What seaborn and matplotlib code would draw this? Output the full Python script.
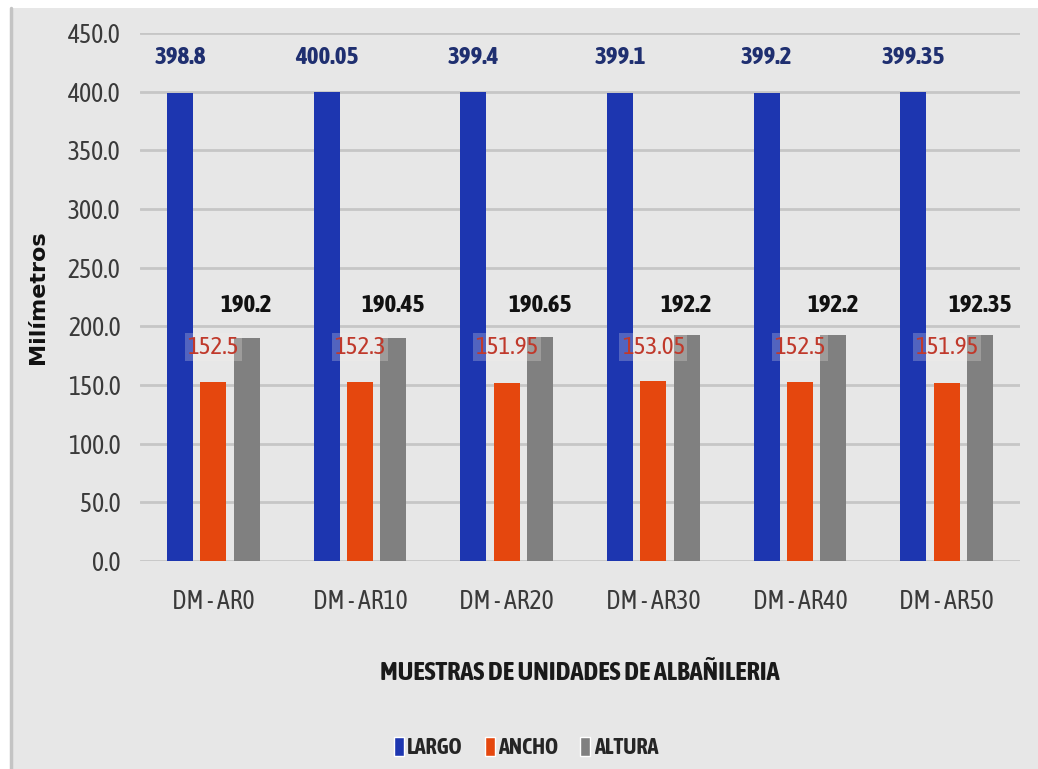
import matplotlib
matplotlib.use("Agg")
import matplotlib.pyplot as plt
from matplotlib import font_manager
from matplotlib.patches import Rectangle
from matplotlib.lines import Line2D
import seaborn as sns
import pandas as pd

# Sample names and measured dimensions (mm)
muestras = ["DM - AR0", "DM - AR10", "DM - AR20", "DM - AR30", "DM - AR40", "DM - AR50"]
largo = [398.8, 400.05, 399.4, 399.1, 399.2, 399.35]
ancho = [152.5, 152.3, 151.95, 153.05, 152.5, 151.95]
altura = [190.2, 190.45, 190.65, 192.2, 192.2, 192.35]
series = ["LARGO", "ANCHO", "ALTURA"]
y_ticks = [0, 50, 100, 150, 200, 250, 300, 350, 400, 450]

colores = {"LARGO": "#1D36B0", "ANCHO": "#E5470E", "ALTURA": "#808080"}
color_etiqueta = {"LARGO": "#1F2F70", "ANCHO": "#C0392B", "ALTURA": "#111111"}

df = pd.DataFrame({
    "muestra": muestras * 3,
    "serie": [s for s in series for _ in muestras],
    "mm": largo + ancho + altura,
})

# pick a narrow sans family, preferring one that has a bold face
fonts = font_manager.fontManager.ttflist
narrow = sorted({f.name for f in fonts if ("Narrow" in f.name or "Condensed" in f.name)})
with_bold = [n for n in narrow
             if any(f.name == n and f.weight in ("bold", 700, "700") for f in fonts)]
if "Liberation Sans Narrow" in narrow:
    base = "Liberation Sans Narrow"
elif with_bold:
    base = with_bold[0]
elif narrow:
    base = narrow[0]
else:
    base = "Liberation Sans"
NARROW = [base, "DejaVu Sans"]

sns.set_theme(style="white")
plt.rcParams["font.family"] = NARROW

BG = "#E7E7E7"
fig = plt.figure(figsize=(10.38, 7.69), dpi=100, facecolor="white")
# grey panel with a thin darker edge on the left
fig.patches.append(Rectangle((10 / 1038, 0), 1 - 10 / 1038, 1 - 8 / 769,
                             transform=fig.transFigure, facecolor=BG,
                             edgecolor="none", zorder=0))
fig.lines.append(Line2D([10.5 / 1038, 10.5 / 1038], [0, 1 - 8 / 769],
                        transform=fig.transFigure, color="#C4C4C4", lw=2.5, zorder=1))

ax = fig.add_axes([140 / 1038, 1 - 561 / 769, 880 / 1038, 528 / 769])
ax.set_zorder(2)
ax.set_facecolor(BG)

sns.barplot(data=df, x="muestra", y="mm", hue="serie", hue_order=series,
            order=muestras, palette=colores, width=0.68, gap=0.22,
            saturation=1, errorbar=None, legend=False, linewidth=0,
            ax=ax, zorder=3)

ax.set_xlim(-0.5, 5.5)
ax.set_ylim(0, 450)
ax.set_yticks(y_ticks)
ax.set_yticklabels([f"{t:.1f}" for t in y_ticks])
ax.yaxis.grid(True, color="#C6C6C6", lw=2)
ax.set_axisbelow(True)
for s in ax.spines.values():
    s.set_visible(False)
ax.tick_params(axis="both", length=0, labelsize=18.5, labelcolor="#3A3A3A")
ax.tick_params(axis="y", pad=14)
ax.tick_params(axis="x", pad=20)

ax.set_xlabel("MUESTRAS DE UNIDADES DE ALBAÑILERIA", fontsize=19, fontweight="bold",
              color="#1A1A1A")
ax.xaxis.set_label_coords(0.5, -0.1875)
ax.set_ylabel("Milímetros", fontsize=16, fontweight="bold", color="#111111",
              family=["DejaVu Sans"])
ax.yaxis.set_label_coords(-0.1045, 0.5)

# value labels, one per bar, drawn from the same values as the bars
valores = {"LARGO": largo, "ANCHO": ancho, "ALTURA": altura}
label_y = {"LARGO": 429, "ANCHO": 182, "ALTURA": 218}
for serie, cont in zip(series, ax.containers):
    for bar, v in zip(cont, valores[serie]):
        cx = bar.get_x() + bar.get_width() / 2
        kw = dict(ha="center", va="center", fontsize=18, zorder=5,
                  color=color_etiqueta[serie])
        if serie == "ANCHO":
            kw["bbox"] = dict(boxstyle="square,pad=0.1", facecolor="#F4F0EC",
                              edgecolor="none", alpha=0.25)
        else:
            kw["fontweight"] = "bold"
        ax.text(cx, label_y[serie], f"{v:g}", **kw)

handles = [Rectangle((0, 0), 1, 1, facecolor=colores[s]) for s in series]
fig.legend(handles, series, loc="center", bbox_to_anchor=(526 / 1038, 1 - 748 / 769),
           ncol=3, frameon=False, handlelength=0.45, handleheight=0.9,
           handletextpad=0.15, columnspacing=1.0,
           prop={"family": NARROW, "weight": "bold", "size": 16})

fig.savefig("out.png", dpi=100, facecolor="white")
